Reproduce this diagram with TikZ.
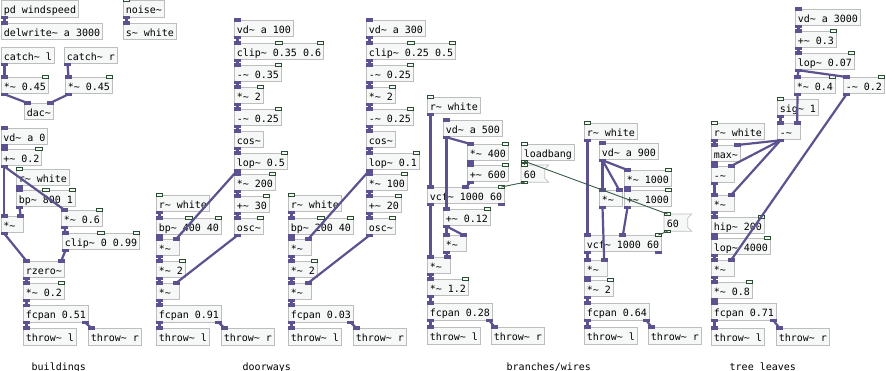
\documentclass[tikz,border=0pt]{standalone}
\usepackage{fontspec}
\setmonofont{DejaVu Sans Mono}
\usetikzlibrary{calc}
\definecolor{boxfill}{HTML}{F6F8F8}
\definecolor{boxline}{HTML}{BDBDBD}
\definecolor{sigcord}{HTML}{5B528F}
\definecolor{ctlline}{HTML}{2B4B33}
\definecolor{ctlfill}{HTML}{F2F8F2}
\definecolor{ctlcord}{HTML}{3A5A48}

\begin{document}
\begin{tikzpicture}[x=1pt,y=-1pt,
	every node/.style={font=\ttfamily\fontsize{10}{12}\selectfont,inner sep=0pt},
	obj/.style={draw=boxline,fill=boxfill,line width=0.8pt,anchor=north west,minimum height=16.5pt,inner xsep=2.4pt,text height=10pt,text depth=0.5pt},
	msg/.style={obj,draw=none},
	sig/.style={draw=sigcord,line width=2.2pt},
	ctl/.style={draw=ctlcord,line width=0.9pt},
	sigio/.style={fill=sigcord},
	ctlio/.style={fill=ctlfill,draw=ctlline,line width=0.6pt},
	lbl/.style={anchor=base west}]
\useasboundingbox (0,0) rectangle (886,371);
\def\tld{\string~}
\def\pad{\hphantom{0}}

%iolets: node, edge, prefix, kinds (s signal, c control)
\def\pdio#1#2#3#4{
	\edef\kinds{#4}
	\xdef\nio{0}
	\foreach \k in \kinds {\pgfmathparse{int(\nio+1)}\xdef\nio{\pgfmathresult}}
	\foreach \k [count=\j from 0] in \kinds {
		\pgfmathsetmacro{\f}{\j/max(\nio-1,1)}
		\coordinate (#1-#3\j) at ($(#1.#2 west)!\f!(#1.#2 east)+({3.5-7*\f},0)$);
		\if s\k
			\fill[sigio] ($(#1-#3\j)+(-3.5,-1.6)$) rectangle ++(7,3.2);
		\else
			\draw[ctlio] ($(#1-#3\j)+(-3.2,-1.3)$) rectangle ++(6.4,2.6);
		\fi
	}
}
\def\pdin#1#2{\pdio{#1}{north}{i}{#2}}
\def\pdout#1#2{\pdio{#1}{south}{o}{#2}}

%mixer
\node[obj] (wind) at (1,0.5) {pd windspeed};
\node[obj] (delw) at (1,23) {delwrite\tld{} a 3000};
\node[obj] (noise) at (123,0.5) {noise\tld};
\node[obj] (swhite) at (123,23) {s\tld{} white};
\node[obj] (catchl) at (1,47) {catch\tld{} l};
\node[obj] (catchr) at (64,47) {catch\tld{} r};
\node[obj] (gainl) at (1,77) {*\tld{} 0.45};
\node[obj] (gainr) at (65,77) {*\tld{} 0.45};
\node[obj] (dac) at (24,103) {dac\tld};

%buildings
\node[obj] (vda) at (0.5,128) {vd\tld{} a 0};
\node[obj] (offa) at (0.5,149) {+\tld{} 0.2};
\node[obj] (rwa) at (16,169) {r\tld{} white};
\node[obj] (bpa) at (16,190) {bp\tld{} 800 1};
\node[obj] (mula) at (0.5,216) {*\tld\pad};
\node[obj] (scla) at (61,210) {*\tld{} 0.6};
\node[obj] (clipa) at (62,233) {clip\tld{} 0 0.99};
\node[obj] (rzero) at (23,261) {rzero\tld};
\node[obj] (vola) at (23,283) {*\tld{} 0.2};

%doorways
\foreach \n/\xl/\xr/\dly/\clp/\sft/\lpf/\dpt/\ofs/\bpf in {b/156/234/100/{0.35 0.6}/0.35/0.5/200/30/400,c/288/366/300/{0.25 0.5}/0.25/0.1/100/20/200}{
	\node[obj] (vd\n) at (\xr,20) {vd\tld{} a \dly};
	\node[obj] (clip\n) at (\xr,43) {clip\tld{} \clp};
	\node[obj] (sub\n) at (\xr,65) {-\tld{} \sft};
	\node[obj] (dbl\n) at (\xr,87) {*\tld{} 2};
	\node[obj] (ctr\n) at (\xr,109) {-\tld{} 0.25};
	\node[obj] (cos\n) at (\xr,131) {cos\tld};
	\node[obj] (lop\n) at (\xr,153) {lop\tld{} \lpf};
	\node[obj] (dpt\n) at (\xr,174) {*\tld{} \dpt};
	\node[obj] (ofs\n) at (\xr,196) {+\tld{} \ofs};
	\node[obj] (osc\n) at (\xr,218) {osc\tld};
	\node[obj] (rw\n) at (\xl,195) {r\tld{} white};
	\node[obj] (bp\n) at (\xl,218) {bp\tld{} \bpf{} 40};
	\node[obj] (env\n) at (\xl,239) {*\tld\pad};
	\node[obj] (amp\n) at (\xl,261) {*\tld{} 2};
	\node[obj] (mod\n) at (\xl,283) {*\tld\pad};
	\foreach \nm/\ins in {vd/s,clip/{s,c,c},sub/{s,c},dbl/{s,c},ctr/{s,c},cos/s,lop/{s,c},dpt/{s,c},ofs/{s,c},osc/{s,c},rw/c,bp/{s,c,c},env/{s,s},amp/{s,c},mod/{s,s}}
		{\pdin{\nm\n}{\ins}\pdout{\nm\n}{s}}
	\foreach \src/\dst in {vd/clip,clip/sub,sub/dbl,dbl/ctr,ctr/cos,cos/lop,lop/dpt,dpt/ofs,ofs/osc,rw/bp,bp/env,env/amp,amp/mod}
		\draw[sig] (\src\n-o0) -- (\dst\n-i0);
	\draw[sig] (lop\n-o0) -- (env\n-i1);
	\draw[sig] (osc\n-o0) -- (mod\n-i1);
}

%branches/wires
\node[obj] (rwd) at (427,97) {r\tld{} white};
\node[obj] (vdd) at (443,120) {vd\tld{} a 500};
\node[obj] (dptd) at (467,144) {*\tld{} 400};
\node[obj] (ctrd) at (467,165) {+\tld{} 600};
\node[obj] (lb) at (521,144) {loadbang};
\node[msg] (qa) at (521,165) {60\pad};
\node[obj] (vcfd) at (427,187) {vcf\tld{} 1000 60};
\node[obj] (offd) at (443,209) {+\tld{} 0.12};
\node[obj] (sqd) at (443,235) {*\tld\pad};
\node[obj] (mixd) at (427,257) {*\tld\pad};
\node[obj] (vold) at (427,279) {*\tld{} 1.2};

\node[obj] (rwe) at (584,123) {r\tld{} white};
\node[obj] (vde) at (599,143) {vd\tld{} a 900};
\node[obj] (dpte) at (624,170) {*\tld{} 1000};
\node[obj] (sqe) at (599,190) {*\tld\pad};
\node[obj] (ctre) at (624,190) {+\tld{} 1000};
\node[msg] (qb) at (664,214) {60\pad};
\node[obj] (vcfe) at (584,235) {vcf\tld{} 1000 60};
\node[obj] (mixe) at (584,260) {*\tld\pad};
\node[obj] (vole) at (584,280) {*\tld{} 2};

%message flags
\foreach \m in {qa,qb}
	\draw[boxline,line width=0.8pt] (\m.north west) -- ($(\m.north east)+(4,0)$) -- ($(\m.north east)+(0,4)$)
		-- ($(\m.south east)+(0,-4)$) -- ($(\m.south east)+(4,0)$) -- (\m.south west) -- cycle;

%tree leaves
\node[obj] (vdf) at (795,9) {vd\tld{} a 3000};
\node[obj] (offf) at (795,31) {+\tld{} 0.3};
\node[obj] (lopf) at (795,53) {lop\tld{} 0.07};
\node[obj] (dptf) at (794,77) {*\tld{} 0.4};
\node[obj] (cutf) at (843,77) {-\tld{} 0.2};
\node[obj] (one) at (777,99) {sig\tld{} 1};
\node[obj] (invf) at (777,123) {-\tld\pad};
\node[obj] (rwf) at (711,123) {r\tld{} white};
\node[obj] (maxf) at (711,145) {max\tld};
\node[obj] (subf) at (711,166) {-\tld\pad};
\node[obj] (mulf) at (711,195) {*\tld\pad};
\node[obj] (hip) at (711,217) {hip\tld{} 200};
\node[obj] (lopg) at (711,238) {lop\tld{} 4000};
\node[obj] (mixf) at (711,260) {*\tld\pad};
\node[obj] (volf) at (711,282) {*\tld{} 0.8};

%inlets and outlets
\foreach \nm/\ins in {delw/s,noise/c,swhite/s,gainl/{s,c},gainr/{s,c},dac/{s,s},
	vda/s,offa/{s,c},rwa/c,bpa/{s,c,c},mula/{s,s},scla/{s,c},clipa/{s,c,c},rzero/{s,s},vola/{s,c},
	rwd/c,vdd/s,dptd/{s,c},ctrd/{s,c},lb/c,qa/c,vcfd/{s,s,c},offd/{s,c},sqd/{s,s},mixd/{s,s},vold/{s,c},
	rwe/c,vde/s,dpte/{s,c},sqe/{s,s},ctre/{s,c},qb/c,vcfe/{s,s,c},mixe/{s,s},vole/{s,c},
	vdf/s,offf/{s,c},lopf/{s,c},dptf/{s,c},cutf/{s,c},one/c,invf/{s,s},rwf/c,maxf/{s,s},
	subf/{s,s},mulf/{s,s},hip/{s,c},lopg/{s,c},mixf/{s,s},volf/{s,c}}
	{\pdin{\nm}{\ins}}
\foreach \nm/\outs in {wind/s,noise/s,catchl/s,catchr/s,gainl/s,gainr/s,
	vda/s,offa/s,rwa/s,bpa/s,mula/s,scla/s,clipa/s,rzero/s,vola/s,
	rwd/s,vdd/s,dptd/s,ctrd/s,lb/c,qa/c,vcfd/{s,s},offd/s,sqd/s,mixd/s,vold/s,
	rwe/s,vde/s,dpte/s,sqe/s,ctre/s,qb/c,vcfe/{s,s},mixe/s,vole/s,
	vdf/s,offf/s,lopf/s,dptf/s,cutf/s,one/s,invf/s,rwf/s,maxf/s,subf/s,mulf/s,hip/s,lopg/s,mixf/s,volf/s}
	{\pdout{\nm}{\outs}}

%panning and throws
\foreach \n/\src/\x/\y/\xr/\yt/\p in {a/vola/23/305.5/88/328/0.51,b/modb/156/305/221/328/0.91,c/modc/288/305/353/328/0.03,
	d/vold/427/303/491/327/0.28,e/vole/584/303/648/327/0.64,f/volf/711/303/776/328/0.71}{
	\node[obj] (pan\n) at (\x,\y) {fcpan \p};
	\node[obj] (thl\n) at (\x,\yt) {throw\tld{} l};
	\node[obj] (thr\n) at (\xr,\yt) {throw\tld{} r};
	\pdin{pan\n}{s}\pdout{pan\n}{s,s}\pdin{thl\n}{s}\pdin{thr\n}{s}
	\draw[sig] (\src-o0) -- (pan\n-i0);
	\draw[sig] (pan\n-o0) -- (thl\n-i0);
	\draw[sig] (pan\n-o1) -- (thr\n-i0);
}

%cords
\foreach \src/\dst in {wind-o0/delw-i0,noise-o0/swhite-i0,catchl-o0/gainl-i0,catchr-o0/gainr-i0,gainl-o0/dac-i0,gainr-o0/dac-i1,
	vda-o0/offa-i0,offa-o0/mula-i0,offa-o0/scla-i0,rwa-o0/bpa-i0,bpa-o0/mula-i1,mula-o0/rzero-i0,
	scla-o0/clipa-i0,clipa-o0/rzero-i1,rzero-o0/vola-i0,
	rwd-o0/vcfd-i0,vdd-o0/dptd-i0,vdd-o0/offd-i0,dptd-o0/ctrd-i0,ctrd-o0/vcfd-i1,vcfd-o0/mixd-i0,
	offd-o0/sqd-i0,offd-o0/sqd-i1,sqd-o0/mixd-i1,mixd-o0/vold-i0,
	rwe-o0/vcfe-i0,vde-o0/dpte-i0,vde-o0/sqe-i0,vde-o0/sqe-i1,dpte-o0/ctre-i0,ctre-o0/vcfe-i1,
	vcfe-o0/mixe-i0,sqe-o0/mixe-i1,mixe-o0/vole-i0,
	vdf-o0/offf-i0,offf-o0/lopf-i0,lopf-o0/dptf-i0,lopf-o0/cutf-i0,dptf-o0/invf-i1,one-o0/invf-i0,
	invf-o0/maxf-i1,invf-o0/subf-i1,invf-o0/mulf-i1,rwf-o0/maxf-i0,maxf-o0/subf-i0,subf-o0/mulf-i0,
	mulf-o0/hip-i0,hip-o0/lopg-i0,lopg-o0/mixf-i0,cutf-o0/mixf-i1,mixf-o0/volf-i0}
	\draw[sig] (\src) -- (\dst);
\foreach \src/\dst in {lb-o0/qa-i0,lb-o0/qb-i0,qa-o0/vcfd-i2,qb-o0/vcfe-i2}
	\draw[ctl] (\src) -- (\dst);

%comments
\node[lbl] (ta) at (31.5,370.5) {buildings};
\node[lbl] (tb) at (242.5,370.5) {doorways};
\node[lbl] (tc) at (506.5,370.5) {branches/wires};
\node[lbl] (td) at (729.5,370.5) {tree leaves};
\end{tikzpicture}
\end{document}
